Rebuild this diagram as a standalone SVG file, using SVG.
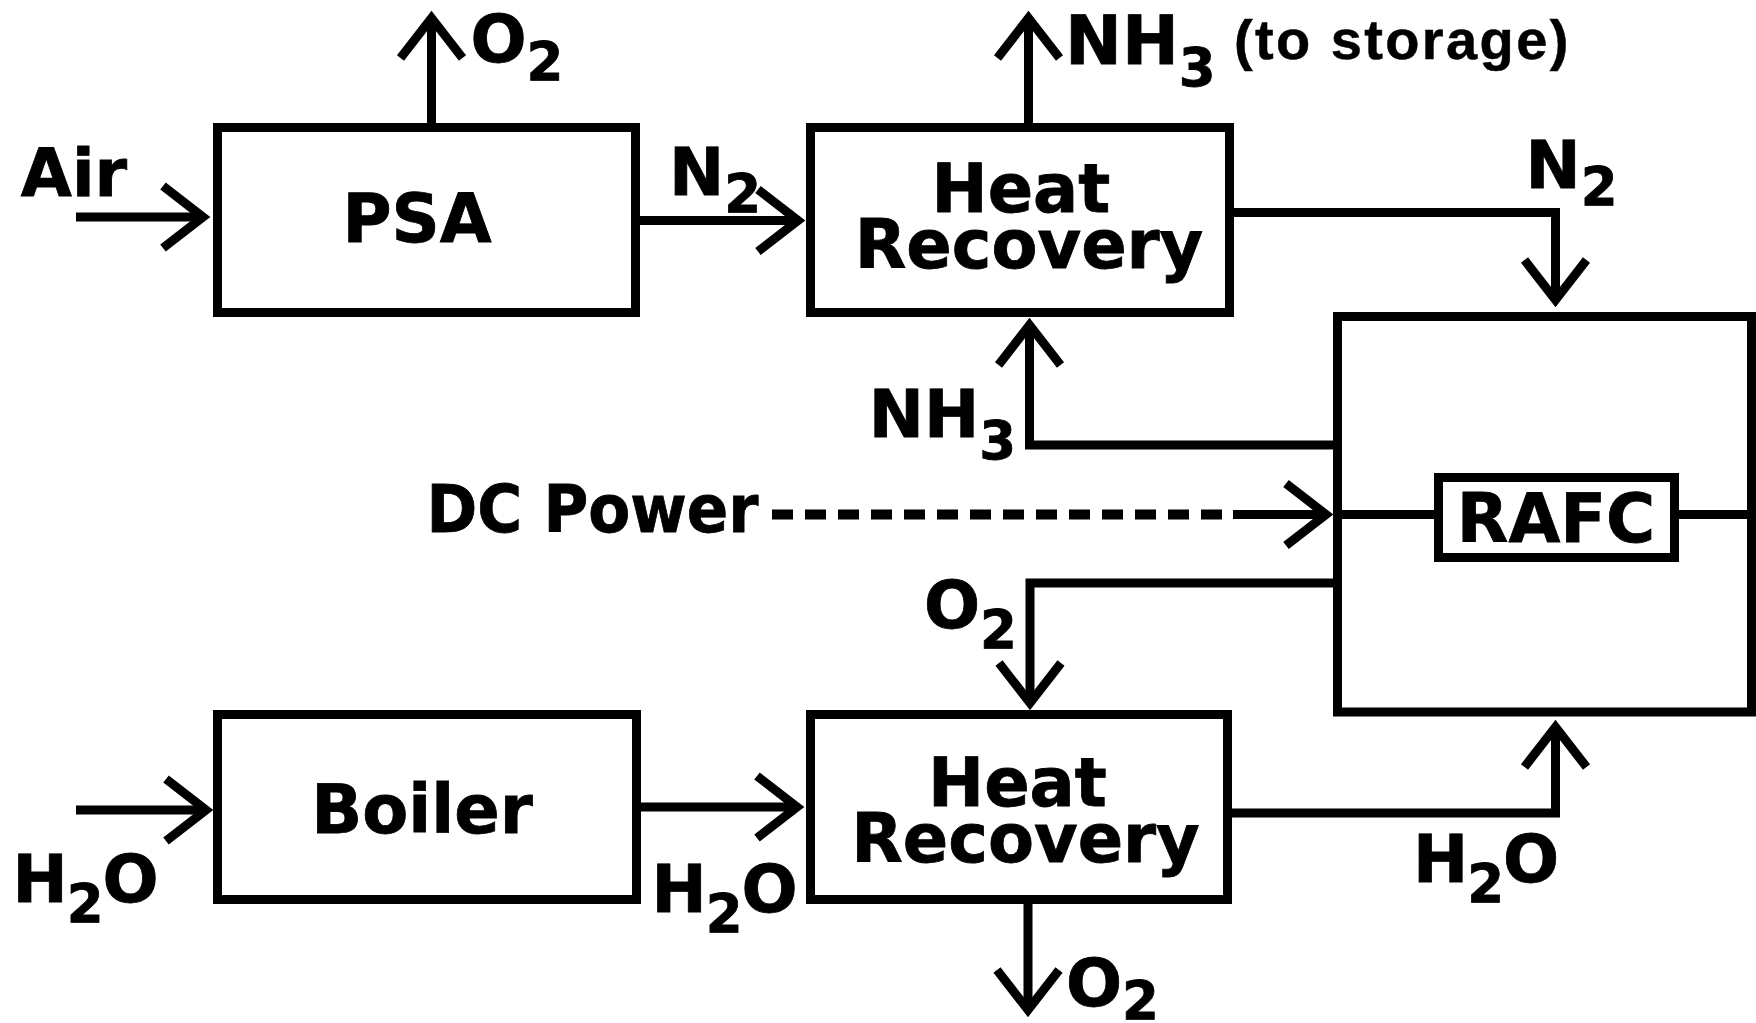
<svg xmlns="http://www.w3.org/2000/svg" width="1756" height="1023" viewBox="0 0 1756 1023">
<style>
  .box{fill:none;stroke:#000;stroke-width:9;stroke-linejoin:miter}
  .ln{fill:none;stroke:#000;stroke-width:9;stroke-linejoin:miter;stroke-linecap:butt}
  .arr{marker-end:url(#ah)}
  .dash{fill:none;stroke:#000;stroke-width:10;stroke-dasharray:21 12}
  text{font-family:"DejaVu Sans","Liberation Sans",sans-serif;font-weight:bold;fill:#000;stroke:#000;stroke-width:0.8px}
  .lbl{font-size:66px;text-anchor:middle}
  .sub{font-size:53px}
  .nm{font-size:67px;text-anchor:middle}
  .note{font-family:"Liberation Sans",Arial,sans-serif;font-size:56px;letter-spacing:2.4px;stroke-width:0.5px}
</style>
<defs>
  <marker id="ah" markerUnits="userSpaceOnUse" orient="auto" refX="0" refY="0" markerWidth="60" markerHeight="80" viewBox="-50 -40 60 80" overflow="visible">
    <path d="M-40,-31 L0,0 L-40,31" fill="none" stroke="#000" stroke-width="9" stroke-linejoin="miter"/>
  </marker>
</defs>
<rect width="1756" height="1023" fill="#fff" stroke="none"/>

<g id="connectors">
  <path class="ln arr" d="M76,217 H203"/>
  <path class="ln arr" d="M640,220.5 H798"/>
  <path class="ln arr" d="M431.5,123 V18"/>
  <path class="ln arr" d="M1028.5,123 V18"/>
  <path class="ln arr" d="M1234,212.5 H1555.5 V300"/>
  <path class="ln arr" d="M1333,445 H1029.5 V325"/>
  <path class="ln arr" d="M1333,583 H1030 V703"/>
  <path class="dash" d="M772,514.5 H1222"/>
  <path class="ln arr" d="M1233,514.5 H1326"/>
  <path class="ln" d="M1333,514.5 H1434"/>
  <path class="ln" d="M1679,514.5 H1752"/>
  <path class="ln arr" d="M76,810 H206"/>
  <path class="ln arr" d="M641,807 H797"/>
  <path class="ln arr" d="M1232,813 H1555.5 V727"/>
  <path class="ln arr" d="M1028,904 V1010"/>
</g>

<g id="psa">
  <rect class="box" x="217.5" y="127.5" width="418" height="185"/>
  <text class="nm" x="417" y="242" font-size="68">PSA</text>
</g>
<g id="heat-recovery-top">
  <rect class="box" x="810.5" y="127.5" width="419" height="185"/>
  <text class="nm"><tspan x="1021" y="212">Heat</tspan><tspan x="1029" y="268">Recovery</tspan></text>
</g>
<g id="boiler">
  <rect class="box" x="217.5" y="714.5" width="419" height="185"/>
  <text class="nm" x="422" y="833" font-size="68">Boiler</text>
</g>
<g id="heat-recovery-bottom">
  <rect class="box" x="810.5" y="714.5" width="417" height="185"/>
  <text class="nm"><tspan x="1017.5" y="806">Heat</tspan><tspan x="1025.5" y="862">Recovery</tspan></text>
</g>
<g id="rafc-unit">
  <rect class="box" x="1337.5" y="316.5" width="414" height="395.5"/>
  <rect class="box" x="1438.5" y="477.5" width="236" height="80"/>
  <text class="nm" x="1556" y="542">RAFC</text>
</g>

<g id="labels">
  <text class="lbl" x="74" y="196" font-size="63">Air</text>
  <text class="lbl" x="517" y="62">O<tspan class="sub" dy="18">2</tspan></text>
  <text class="lbl" x="715" y="195">N<tspan class="sub" dy="17">2</tspan></text>
  <text class="lbl" x="1571.5" y="188">N<tspan class="sub" dy="17">2</tspan></text>
  <text><tspan x="1065" y="64" font-size="68">NH</tspan><tspan class="sub" dy="22">3</tspan><tspan class="note" x="1234" y="59">(to storage)</tspan></text>
  <text class="lbl" x="942.5" y="437">NH<tspan class="sub" dy="22">3</tspan></text>
  <text class="lbl" x="592.5" y="532" font-size="62" textLength="332" lengthAdjust="spacingAndGlyphs">DC Power</text>
  <text class="lbl" x="970.5" y="628">O<tspan class="sub" dy="20">2</tspan></text>
  <text class="lbl" x="85" y="902" letter-spacing="-1">H<tspan class="sub" dy="20">2</tspan><tspan dy="-20">O</tspan></text>
  <text class="lbl" x="724" y="912" letter-spacing="-1">H<tspan class="sub" dy="20">2</tspan><tspan dy="-20">O</tspan></text>
  <text class="lbl" x="1485.5" y="882" letter-spacing="-1">H<tspan class="sub" dy="20">2</tspan><tspan dy="-20">O</tspan></text>
  <text class="lbl" x="1112.5" y="1006">O<tspan class="sub" dy="13">2</tspan></text>
</g>
</svg>
